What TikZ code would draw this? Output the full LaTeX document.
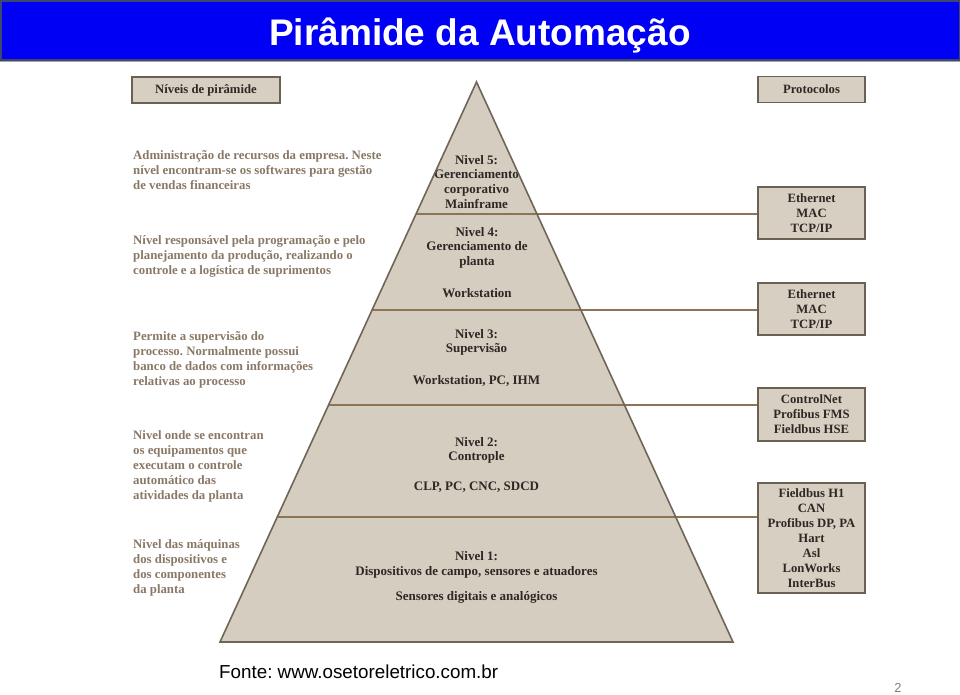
\documentclass[tikz,border=0pt]{standalone}
\usepackage{fontspec}
\setmainfont{Liberation Serif}
\newfontfamily\sansf{Liberation Sans}
\usetikzlibrary{calc}
\definecolor{pyrfill}{HTML}{D6CDC1}
\definecolor{pyrline}{HTML}{6F6658}
\definecolor{divline}{HTML}{8C7457}
\definecolor{boxfill}{HTML}{D8CFC3}
\definecolor{boxline}{HTML}{6B6152}
\definecolor{desc}{HTML}{8A7866}
\definecolor{darktext}{HTML}{2E2824}
\definecolor{titleblue}{HTML}{0000F5}
\definecolor{barline}{HTML}{3C4870}
\frenchspacing
\begin{document}
\frenchspacing
\begin{tikzpicture}[x=1pt,y=-1pt,
  desctext/.style={anchor=base west, align=left, inner sep=0pt, text=desc,
    font=\bfseries\fontsize{12.8}{15}\selectfont},
  pyrtext/.style={anchor=base, align=center, inner sep=0pt, text=darktext,
    font=\bfseries\fontsize{13}{14.7}\selectfont},
  protobox/.style={draw=boxline, line width=1.6pt, fill=boxfill, align=center,
    inner sep=0pt, minimum width=107pt, text=darktext,
    font=\bfseries\fontsize{12.7}{15}\selectfont},
  divider/.style={draw=divline, line width=1.8pt},
  pyredge/.style={draw=pyrline, line width=1.6pt, line join=miter}]
\useasboundingbox (0,0) rectangle (960,694);
\fill[white] (0,0) rectangle (960,694);
% title bar
\draw[barline, line width=1.5pt, fill=titleblue] (0.75,0.75) rectangle (959.25,60);
\draw[gray!70, line width=1pt] (0,61.5) -- (960,61.5);
\node[anchor=base, inner sep=0pt, text=white, font=\sansf\bfseries\fontsize{37}{40}\selectfont] (title) at (480,45) {Pirâmide da Automação};
% header boxes
\node[protobox, minimum width=148pt, minimum height=26pt] (niv) at (206,90) {Níveis de pirâmide};
\node[protobox, minimum height=26pt] (prot) at (811.5,89.5) {Protocolos};
% protocol boxes
\node[protobox, minimum height=52pt] (p1) at (811.5,213) {Ethernet\\MAC\\TCP/IP};
\node[protobox, minimum height=52pt] (p2) at (811.5,309) {Ethernet\\MAC\\TCP/IP};
\node[protobox, minimum height=53pt] (p3) at (811.5,414.5) {ControlNet\\Profibus FMS\\Fieldbus HSE};
\node[protobox, minimum height=110pt] (p4) at (811.5,538) {Fieldbus H1\\CAN\\Profibus DP, PA\\Hart\\Asl\\LonWorks\\InterBus};
% pyramid
\coordinate (apex) at (476.5,82);
\coordinate (bl) at (220,642);
\coordinate (br) at (733,642);
\fill[pyrfill] (apex) -- (br) -- (bl) -- cycle;
\coordinate (d1l) at ($(apex)!0.2357!(bl)$);
\coordinate (d2l) at ($(apex)!0.4071!(bl)$);
\coordinate (d3l) at ($(apex)!0.5768!(bl)$);
\coordinate (d4l) at ($(apex)!0.7768!(bl)$);
\draw[divider] (d1l) -- (d1l -| p1.west);
\draw[divider] (d2l) -- (d2l -| p2.west);
\draw[divider] (d3l) -- (d3l -| p3.west);
\draw[divider] (d4l) -- (d4l -| p4.west);
% pyramid texts (anchor = baseline of last line)
\node[pyrtext] (l5) at (476.5,208.1) {Nivel 5:\\Gerenciamento\\corporativo\\Mainframe};
\node[pyrtext] (l4) at (477,265.4) {Nivel 4:\\Gerenciamento de\\planta};
\node[pyrtext] (l4s) at (477,297) {Workstation};
\node[pyrtext] (l3) at (476.5,352.7) {Nivel 3:\\Supervisão};
\node[pyrtext] (l3s) at (476.5,384.5) {Workstation, PC, IHM};
\node[pyrtext, font=\bfseries\fontsize{13}{14}\selectfont] (l2) at (476.5,460.5) {Nivel 2:\\Controple};
\node[pyrtext] (l2s) at (476.5,490.5) {CLP, PC, CNC, SDCD};
\node[pyrtext, font=\bfseries\fontsize{13}{15}\selectfont] (l1) at (476.5,575.5) {Nivel 1:\\Dispositivos de campo, sensores e atuadores};
\node[pyrtext] (l1s) at (476.5,600.5) {Sensores digitais e analógicos};
\draw[pyredge] (apex) -- (br) -- (bl) -- cycle;
% left descriptions (anchor = baseline of last line)
\node[desctext] (t5) at (133,189) {Administração de recursos da empresa. Neste\\nível encontram-se os softwares para gestão\\de vendas financeiras};
\node[desctext] (t4) at (133,274) {Nível responsável pela programação e pelo\\planejamento da produção, realizando o\\controle e a logística de suprimentos};
\node[desctext] (t3) at (133,385.5) {Permite a supervisão do\\processo. Normalmente possui\\banco de dados com informações\\relativas ao processo};
\node[desctext] (t2) at (133,499) {Nivel onde se encontran\\os equipamentos que\\executam o controle\\automático das\\atividades da planta};
\node[desctext] (t1) at (133,593) {Nivel das máquinas\\dos dispositivos e\\dos componentes\\da planta};
% footer
\node[anchor=base west, inner sep=0pt, font=\sansf\fontsize{18.8}{22}\selectfont] (src) at (219,678) {Fonte: www.osetoreletrico.com.br};
\node[anchor=base, inner sep=0pt, text=gray, font=\sansf\fontsize{13}{15}\selectfont] (pg) at (898,692) {2};
\end{tikzpicture}
\end{document}
